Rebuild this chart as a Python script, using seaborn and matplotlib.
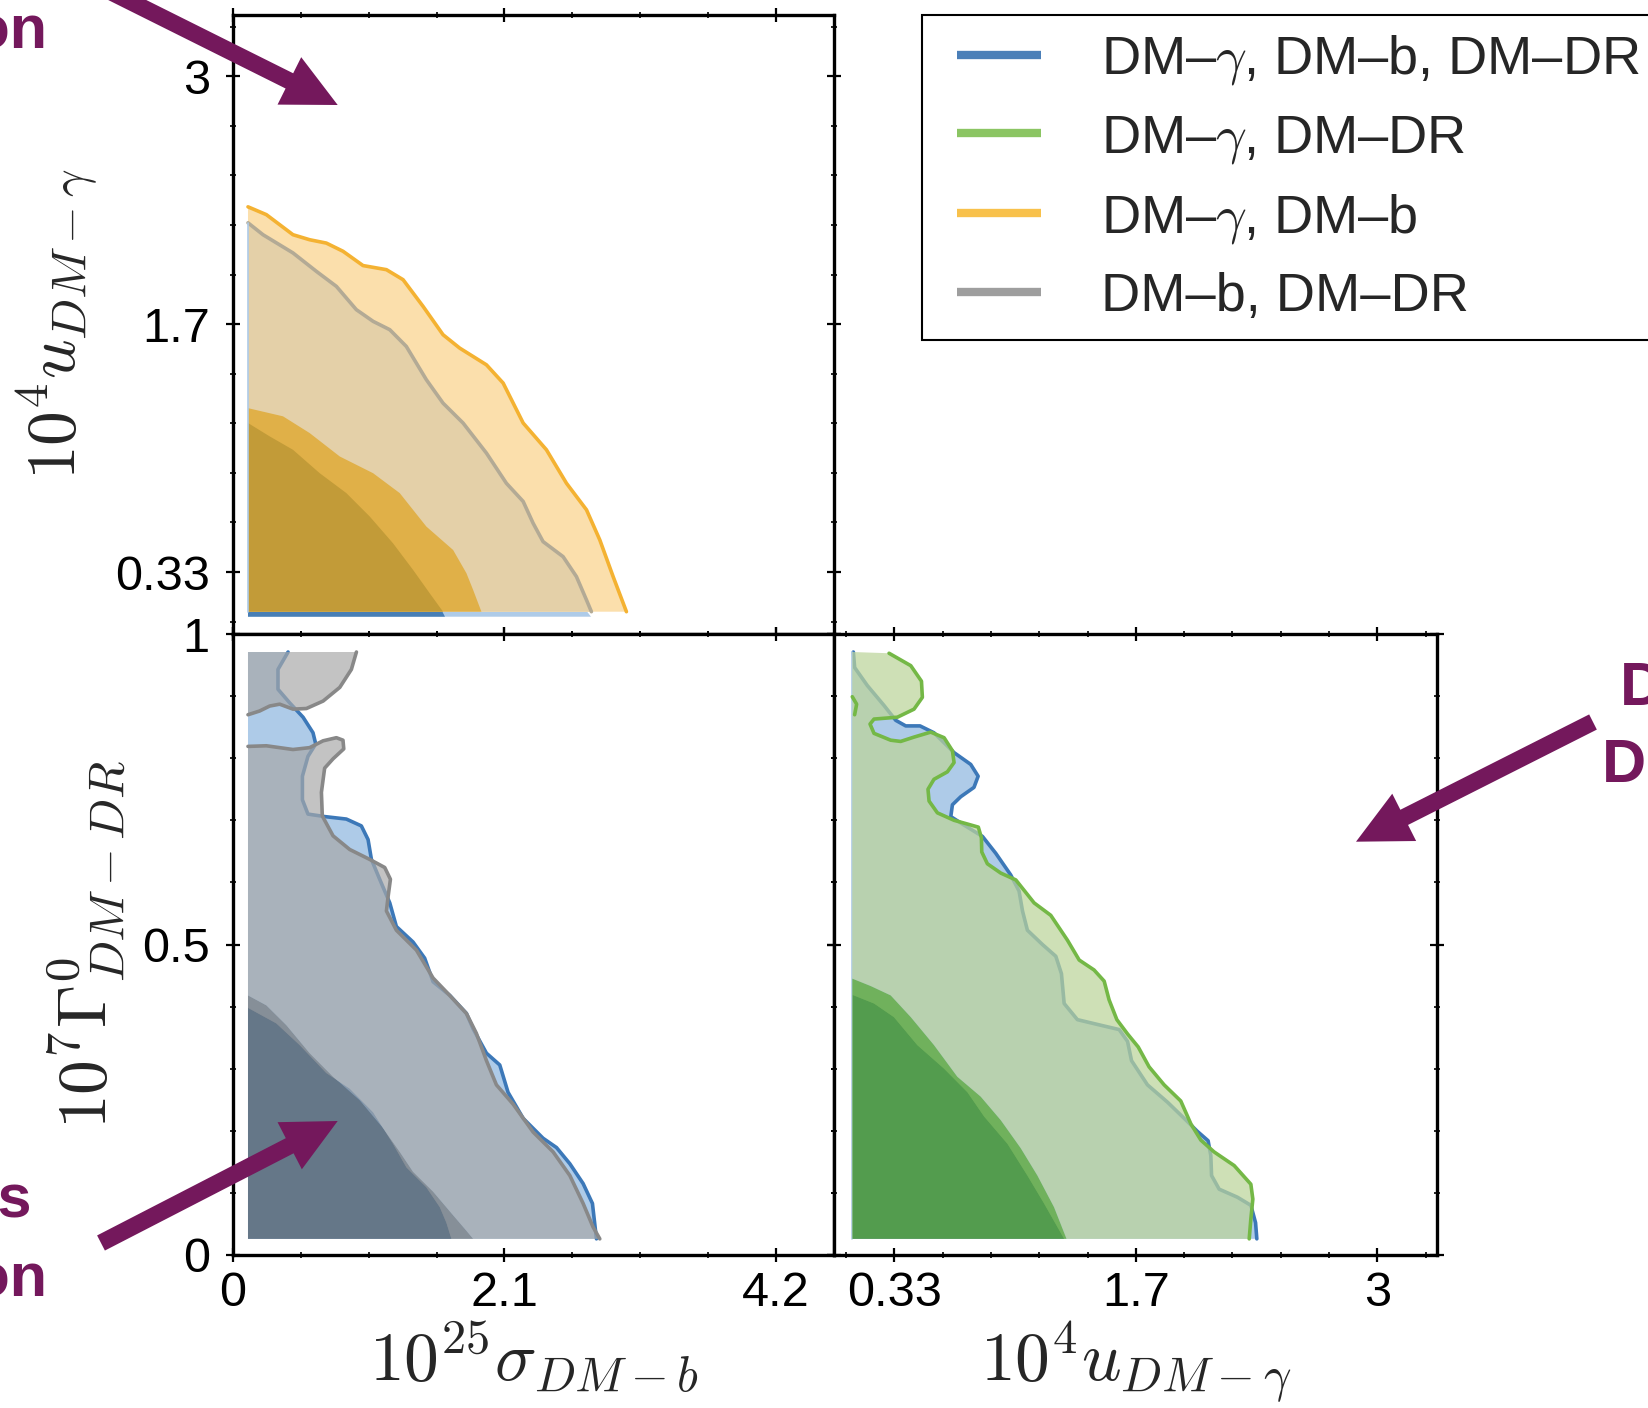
import matplotlib
matplotlib.use('Agg')
import matplotlib.pyplot as plt
import seaborn as sns
from matplotlib.lines import Line2D
from matplotlib.patches import FancyArrow, Rectangle
from matplotlib.transforms import IdentityTransform

W, H = 1649, 1408

# ---------------- data ----------------
# edges of the sampled grid in each panel
TL_X0 = 0.116
BL_X0, BL_Y1 = 0.116, 0.971
BR_X0, BR_Y1 = 0.101, 0.971

# top-left: 10^25 sigma (x) vs 10^4 u (y)
tl_orange95_sig = [0.116, 0.258, 0.464, 0.593, 0.722, 0.851, 1.006, 1.187, 1.316, 1.471, 1.625,
                   1.754, 1.961, 2.090, 2.245, 2.425, 2.580, 2.735, 2.838, 2.941, 3.044]
tl_orange95_u = [2.298, 2.256, 2.148, 2.121, 2.103, 2.059, 1.982, 1.960, 1.906, 1.762, 1.610,
                 1.538, 1.448, 1.350, 1.135, 0.991, 0.811, 0.668, 0.506, 0.309, 0.120]
tl_orange68_sig = [0.116, 0.387, 0.593, 0.826, 1.084, 1.290, 1.496, 1.703, 1.806, 1.858, 1.922]
tl_orange68_u = [1.215, 1.171, 1.081, 0.955, 0.865, 0.758, 0.578, 0.452, 0.327, 0.237, 0.120]
tl_grey95_sig = [0.116, 0.232, 0.464, 0.645, 0.800, 0.954, 1.084, 1.213, 1.341, 1.496, 1.625,
                 1.780, 1.961, 2.115, 2.245, 2.322, 2.399, 2.554, 2.657, 2.735, 2.773]
tl_grey95_u = [2.212, 2.148, 2.050, 1.951, 1.870, 1.745, 1.682, 1.637, 1.547, 1.368, 1.242,
               1.135, 0.973, 0.811, 0.713, 0.596, 0.497, 0.416, 0.309, 0.183, 0.120]
tl_grey68_sig = [0.116, 0.284, 0.464, 0.671, 0.877, 1.058, 1.238, 1.393, 1.522, 1.625]
tl_grey68_u = [1.135, 1.063, 0.991, 0.865, 0.758, 0.632, 0.488, 0.345, 0.219, 0.120]
tl_blue95_sig = [2.740, 2.770]
tl_blue95_u = [0.120, 0.093]
tl_blue68_sig = [1.620, 1.640]
tl_blue68_u = [0.120, 0.093]

# bottom-left: 10^25 sigma (x) vs 10^7 Gamma (y)
bl_blue95_sig = [0.426, 0.348, 0.348, 0.439, 0.542, 0.619, 0.640, 0.580, 0.537, 0.537, 0.580,
                 0.709, 0.877, 0.993, 1.045, 1.071, 1.135, 1.213, 1.264, 1.393, 1.483, 1.548,
                 1.677, 1.806, 1.858, 1.961, 2.064, 2.128, 2.245, 2.399, 2.503, 2.606, 2.709,
                 2.781, 2.812]
bl_blue95_g = [0.971, 0.943, 0.911, 0.889, 0.866, 0.841, 0.823, 0.803, 0.771, 0.733, 0.710,
               0.706, 0.702, 0.691, 0.669, 0.637, 0.605, 0.567, 0.529, 0.504, 0.478, 0.440,
               0.418, 0.389, 0.364, 0.325, 0.306, 0.262, 0.220, 0.188, 0.173, 0.147, 0.115,
               0.083, 0.026]
bl_blue68_sig = [0.116, 0.335, 0.516, 0.722, 0.903, 1.084, 1.238, 1.342, 1.496, 1.600, 1.651, 1.690]
bl_blue68_g = [0.398, 0.373, 0.338, 0.293, 0.268, 0.230, 0.179, 0.141, 0.109, 0.077, 0.052, 0.026]
bl_grey95_sig = [0.116, 0.258, 0.464, 0.593, 0.697, 0.800, 0.851, 0.857, 0.774, 0.709, 0.684,
                 0.691, 0.774, 0.903, 1.058, 1.174, 1.218, 1.200, 1.187, 1.264, 1.419, 1.548,
                 1.677, 1.806, 1.883, 1.961, 2.038, 2.167, 2.322, 2.477, 2.606, 2.709, 2.786,
                 2.838]
bl_grey95_g = [0.819, 0.820, 0.814, 0.817, 0.828, 0.833, 0.829, 0.815, 0.799, 0.784, 0.745,
               0.707, 0.675, 0.653, 0.637, 0.624, 0.605, 0.577, 0.554, 0.523, 0.491, 0.446,
               0.418, 0.389, 0.357, 0.313, 0.274, 0.243, 0.198, 0.166, 0.128, 0.083, 0.045,
               0.026]
bl_grey95_top_sig = [0.955, 0.916, 0.826, 0.697, 0.568, 0.464, 0.361, 0.284, 0.206, 0.116]
bl_grey95_top_g = [0.971, 0.943, 0.914, 0.892, 0.880, 0.879, 0.887, 0.884, 0.876, 0.870]
bl_grey68_sig = [0.116, 0.258, 0.413, 0.593, 0.774, 0.980, 1.161, 1.290, 1.393, 1.548, 1.703,
                 1.806, 1.858]
bl_grey68_g = [0.418, 0.402, 0.370, 0.325, 0.287, 0.249, 0.204, 0.166, 0.134, 0.102, 0.064,
               0.039, 0.026]

# bottom-right: 10^4 u (x) vs 10^7 Gamma (y)
br_blue95_u = [0.107, 0.114, 0.184, 0.276, 0.341, 0.396, 0.475, 0.552, 0.663, 0.755, 0.796,
               0.773, 0.700, 0.654, 0.645, 0.709, 0.820, 0.893, 0.976, 1.022, 1.041, 1.068,
               1.151, 1.225, 1.256, 1.271, 1.344, 1.473, 1.575, 1.621, 1.643, 1.731, 1.842,
               1.934, 2.007, 2.066, 2.081, 2.085, 2.127, 2.228, 2.302, 2.328, 2.335]
br_blue95_g = [0.971, 0.946, 0.917, 0.885, 0.861, 0.852, 0.852, 0.841, 0.809, 0.790, 0.771,
               0.753, 0.738, 0.725, 0.706, 0.694, 0.674, 0.647, 0.612, 0.586, 0.554, 0.523,
               0.500, 0.481, 0.453, 0.405, 0.379, 0.370, 0.363, 0.344, 0.313, 0.274, 0.246,
               0.220, 0.199, 0.184, 0.160, 0.128, 0.106, 0.093, 0.080, 0.052, 0.026]
br_blue68_u = [0.101, 0.221, 0.331, 0.460, 0.608, 0.737, 0.829, 0.958, 1.068, 1.160, 1.234, 1.271]
br_blue68_g = [0.419, 0.405, 0.383, 0.338, 0.300, 0.262, 0.223, 0.179, 0.128, 0.083, 0.045, 0.026]
br_green95_u = [0.304, 0.424, 0.483, 0.488, 0.442, 0.350, 0.221, 0.199, 0.221, 0.313, 0.368,
                0.442, 0.534, 0.608, 0.654, 0.663, 0.626, 0.552, 0.519, 0.525, 0.571, 0.663,
                0.737, 0.797, 0.814, 0.816, 0.847, 0.921, 1.004, 1.105, 1.197, 1.289, 1.354,
                1.436, 1.492, 1.519, 1.562, 1.621, 1.680, 1.740, 1.823, 1.915, 1.971, 2.026,
                2.099, 2.210, 2.302, 2.313, 2.302, 2.293]
br_green95_g = [0.969, 0.949, 0.924, 0.898, 0.879, 0.866, 0.863, 0.855, 0.840, 0.829, 0.827,
                0.834, 0.842, 0.833, 0.812, 0.793, 0.778, 0.766, 0.750, 0.731, 0.712, 0.700,
                0.694, 0.689, 0.672, 0.649, 0.630, 0.615, 0.604, 0.567, 0.547, 0.507, 0.475,
                0.459, 0.441, 0.411, 0.379, 0.356, 0.335, 0.303, 0.274, 0.248, 0.211, 0.185,
                0.166, 0.144, 0.114, 0.090, 0.058, 0.026]
br_green95_bit_u = [0.101, 0.125, 0.114]
br_green95_bit_g = [0.899, 0.887, 0.870]
br_green68_u = [0.101, 0.203, 0.313, 0.424, 0.552, 0.681, 0.810, 0.921, 1.031, 1.123, 1.215, 1.284]
br_green68_g = [0.445, 0.433, 0.418, 0.383, 0.338, 0.287, 0.255, 0.217, 0.172, 0.128, 0.077, 0.026]

# axes
sig_lim, u_lim, g_lim = (0, 4.65), (0, 3.33), (0, 1.0)
sig_ticks, sig_labels = [0, 2.1, 4.2], ['0', '2.1', '4.2']
u_ticks, u_labels = [1 / 3, 5 / 3, 3.0], ['0.33', '1.7', '3']
g_ticks, g_labels = [0, 0.5, 1.0], ['0', '0.5', '1']
sig_minor = [i * 0.525 for i in range(9)]
u_minor = [1 / 3 + (i - 1) * 0.8 / 3 for i in range(13)]
g_minor = [i * 0.1 for i in range(11)]

legend_labels = [r'DM–$\gamma$, DM–b, DM–DR', r'DM–$\gamma$, DM–DR',
                 r'DM–$\gamma$, DM–b', 'DM–b, DM–DR']
legend_colors = ['#4a7fb8', '#8bc563', '#f8c14b', '#9e9e9e']

# colours
BLUE_OUT, BLUE_IN, BLUE_LINE = '#aecbe8', '#477eb5', '#3c78b8'
GREY_OUT, GREY_IN, GREY_LINE, GREY_A = '#a8a8a8', '#747474', '#888888', 0.69
GREEN_OUT, GREEN_IN, GREEN_LINE, GREEN_A = '#bcd49a', '#58a826', '#74b846', 0.72
ORANGE_OUT, ORANGE_IN, ORANGE_LINE = '#fbdfac', '#e0b048', '#f4b232'
TLGREY_OUT, TLGREY_IN, TLGREY_LINE = '#e4d0a8', '#c29b38', '#b3aa95'
PURPLE = '#74185c'


def region(bx, by, x0, yt=None):
    """polygon bounded by the grid's left/bottom edges and a contour curve"""
    if yt is not None:
        return [x0, x0] + bx, [by[-1], yt] + by
    return [x0] + bx, [by[-1]] + by


def band(ox, oy, ix, iy, x0, yt=None):
    """area between an outer and an inner contour"""
    hx, hy = ([x0], [yt]) if yt is not None else ([], [])
    return hx + ox + ix[::-1], hy + oy + iy[::-1]


def curve(ax, x, y, color, lw=2.6, z=2):
    sns.lineplot(x=x, y=y, sort=False, estimator=None, ax=ax, color=color,
                 lw=lw, legend=False, zorder=z, solid_joinstyle='round')


sns.set_theme(style='ticks')
plt.rcParams['font.family'] = ['Liberation Sans', 'DejaVu Sans']
plt.rcParams['mathtext.fontset'] = 'cm'

fig = plt.figure(figsize=(W / 100, H / 100), dpi=100)
ax_tl = fig.add_axes([233 / W, 1 - 634 / H, 601 / W, 619 / H])
ax_bl = fig.add_axes([233 / W, 1 - 1255 / H, 601 / W, 621 / H])
ax_br = fig.add_axes([834 / W, 1 - 1255 / H, 603 / W, 621 / H])

# ---- top-left ----
ax = ax_tl
ax.fill(*region(tl_blue95_sig, tl_blue95_u, TL_X0, 0.120), color=BLUE_OUT, lw=0, zorder=1)
ax.fill(*region(tl_blue68_sig, tl_blue68_u, TL_X0, 0.120), color=BLUE_IN, lw=0, zorder=1)
ax.fill(*region(tl_orange95_sig, tl_orange95_u, TL_X0), color=ORANGE_OUT, lw=0, zorder=1)
curve(ax, tl_orange95_sig, tl_orange95_u, ORANGE_LINE, z=2)
ax.fill(*region(tl_grey95_sig, tl_grey95_u, TL_X0), color=TLGREY_OUT, lw=0, zorder=3)
curve(ax, tl_grey95_sig, tl_grey95_u, TLGREY_LINE, z=3)
ax.fill(*region(tl_orange68_sig, tl_orange68_u, TL_X0), color=ORANGE_IN, lw=0, zorder=3)
ax.fill(*region(tl_grey68_sig, tl_grey68_u, TL_X0), color=TLGREY_IN, lw=0, zorder=3)
curve(ax, [TL_X0, TL_X0], [0.12, tl_grey95_u[0]], BLUE_OUT, lw=1.2, z=4)

# ---- bottom-left ----
ax = ax_bl
ax.fill(*band(bl_blue95_sig, bl_blue95_g, bl_blue68_sig, bl_blue68_g, BL_X0, BL_Y1),
        color=BLUE_OUT, lw=0, zorder=1)
ax.fill(*region(bl_blue68_sig, bl_blue68_g, BL_X0), color=BLUE_IN, lw=0, zorder=1)
curve(ax, bl_blue95_sig, bl_blue95_g, BLUE_LINE, z=2)
ax.fill(*band(bl_grey95_sig, bl_grey95_g, bl_grey68_sig, bl_grey68_g, BL_X0),
        color=GREY_OUT, alpha=GREY_A, lw=0, zorder=3)
ax.fill([BL_X0] + bl_grey95_top_sig, [BL_Y1] + bl_grey95_top_g,
        color=GREY_OUT, alpha=GREY_A, lw=0, zorder=3)
ax.fill(*region(bl_grey68_sig, bl_grey68_g, BL_X0), color=GREY_IN, alpha=GREY_A, lw=0, zorder=3)
curve(ax, bl_grey95_sig, bl_grey95_g, GREY_LINE, z=4)
curve(ax, bl_grey95_top_sig, bl_grey95_top_g, GREY_LINE, z=4)

# ---- bottom-right ----
ax = ax_br
ax.fill(*band(br_blue95_u, br_blue95_g, br_blue68_u, br_blue68_g, BR_X0, BR_Y1),
        color=BLUE_OUT, lw=0, zorder=1)
ax.fill(*region(br_blue68_u, br_blue68_g, BR_X0), color=BLUE_IN, lw=0, zorder=1)
curve(ax, br_blue95_u, br_blue95_g, BLUE_LINE, z=2)
curve(ax, [BR_X0, BR_X0], [0.026, BR_Y1], BLUE_OUT, lw=1.2, z=2)
ax.fill(*band(br_green95_u, br_green95_g, br_green68_u, br_green68_g, BR_X0, BR_Y1),
        color=GREEN_OUT, alpha=GREEN_A, lw=0, zorder=3)
ax.fill(*region(br_green68_u, br_green68_g, BR_X0), color=GREEN_IN, alpha=GREEN_A, lw=0, zorder=3)
curve(ax, br_green95_u, br_green95_g, GREEN_LINE, z=4)
curve(ax, br_green95_bit_u, br_green95_bit_g, GREEN_LINE, z=4)

# ---- axes styling ----
for ax in (ax_tl, ax_bl, ax_br):
    for sp in ax.spines.values():
        sp.set_visible(True)
        sp.set_linewidth(2.4)
        sp.set_color('black')
    ax.tick_params(which='both', direction='inout', top=True, right=True,
                   colors='black', labelsize=35)
    ax.tick_params(which='major', length=9.5, width=1.6)
    ax.tick_params(which='minor', length=4.8, width=1.2)
    ax.tick_params(axis='y', pad=12)
    ax.tick_params(axis='x', pad=7)
    ax.set_xlabel('')
    ax.set_ylabel('')

ax_tl.set_xticks(sig_ticks)
ax_tl.set_xticks(sig_minor, minor=True)
ax_tl.tick_params(axis='x', labelbottom=False)
ax_tl.set_yticks(u_ticks, u_labels)
ax_tl.set_yticks(u_minor, minor=True)
ax_tl.set_xlim(*sig_lim)
ax_tl.set_ylim(*u_lim)
ax_tl.set_ylabel(r'$10^4u_{DM-\gamma}$', fontsize=50, labelpad=10)

ax_bl.set_xticks(sig_ticks, sig_labels)
ax_bl.set_xticks(sig_minor, minor=True)
ax_bl.set_yticks(g_ticks, g_labels)
ax_bl.set_yticks(g_minor, minor=True)
ax_bl.set_xlim(*sig_lim)
ax_bl.set_ylim(*g_lim)
ax_bl.set_xlabel(r'$10^{25}\sigma_{DM-b}$', fontsize=50, labelpad=2)
ax_bl.set_ylabel(r'$10^7\Gamma^0_{DM-DR}$', fontsize=50, labelpad=10)

ax_br.set_xticks(u_ticks, u_labels)
ax_br.set_xticks(u_minor, minor=True)
ax_br.set_yticks(g_ticks)
ax_br.set_yticks(g_minor, minor=True)
ax_br.set_xlim(*u_lim)
ax_br.set_ylim(*g_lim)
ax_br.tick_params(axis='y', labelleft=False)
ax_br.set_xlabel(r'$10^4u_{DM-\gamma}$', fontsize=50, labelpad=2)

# ---- legend (frame drawn separately, it runs off the right edge) ----
frame = Rectangle((922, H - 340), 800, 325, facecolor='white', edgecolor='black',
                  lw=1.5, transform=IdentityTransform(), zorder=4)
fig.add_artist(frame)
handles = [Line2D([], [], color=c, lw=6, solid_capstyle='butt') for c in legend_colors]
leg = fig.legend(handles, legend_labels, loc='upper left',
                 bbox_to_anchor=(957 / W, 1 - 33 / H), bbox_transform=fig.transFigure,
                 borderaxespad=0, borderpad=0, frameon=False, fontsize=39,
                 handlelength=1.55, handletextpad=1.1, labelspacing=0.48)
leg.set_zorder(5)

# ---- purple annotations (cut by the figure edge) ----
for tail, tip in [((39, -44), (337.7, 105)), ((101, 1243), (337.7, 1121)),
                  ((1593, 722), (1356, 841.7))]:
    arr = FancyArrow(tail[0], H - tail[1], tip[0] - tail[0], -(tip[1] - tail[1]),
                     width=17, head_width=53, head_length=54, length_includes_head=True,
                     color=PURPLE, lw=0, transform=IdentityTransform(), zorder=10)
    fig.add_artist(arr)

txt = dict(color=PURPLE, fontsize=44, fontweight='bold', va='baseline')
fig.text(47 / W, 1 - 47 / H, 'direction', ha='right', **txt)
fig.text(32 / W, 1 - 1217 / H, 'Degeneracies', ha='right', **txt)
fig.text(47 / W, 1 - 1295 / H, 'direction', ha='right', **txt)
fig.text(1620 / W, 1 - 705 / H, 'DM–γ', ha='left', **txt)
fig.text(1602 / W, 1 - 782 / H, 'DM–DR', ha='left', **txt)

fig.savefig('out.png', dpi=100)
